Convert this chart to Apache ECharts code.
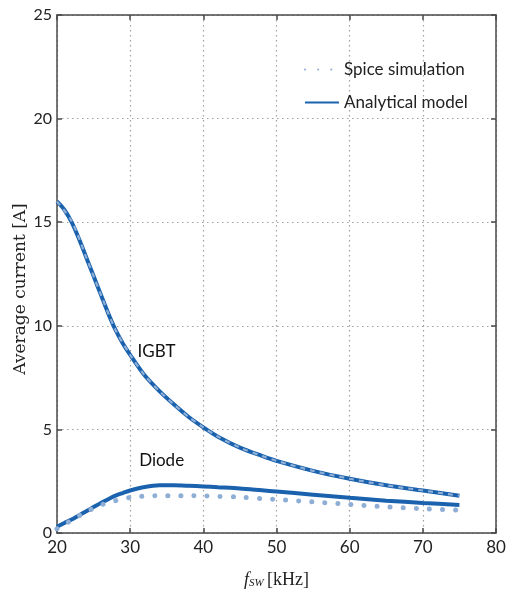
<!DOCTYPE html>
<html>
<head>
<meta charset="utf-8">
<script src="https://cdn.jsdelivr.net/npm/echarts@6/dist/echarts.min.js"></script>
<style>
  html, body { margin: 0; padding: 0; background: #fff; }
  #chart { width: 510px; height: 605px; }
</style>
</head>
<body>
<div id="chart"></div>
<script>
// Switching frequency sweep [kHz] and average device currents [A]
const freqModel = [20, 21, 22, 23, 24, 25, 26, 27, 28, 29, 30, 32, 34, 36, 38, 40, 42, 45, 48, 50, 55, 60, 65, 70, 75];
const igbtModel = [16.0, 15.6, 15.0, 14.2, 13.3, 12.4, 11.5, 10.6, 9.8, 9.15, 8.6, 7.6, 6.85, 6.2, 5.6, 5.1, 4.65, 4.12, 3.72, 3.48, 3.0, 2.62, 2.3, 2.05, 1.8];
const diodeModel = [0.3, 0.48, 0.65, 0.85, 1.05, 1.25, 1.45, 1.63, 1.8, 1.93, 2.05, 2.22, 2.3, 2.3, 2.28, 2.25, 2.21, 2.15, 2.06, 2.0, 1.85, 1.7, 1.56, 1.45, 1.35];

const freqSpice = [20, 22, 24, 26, 28, 30, 32, 34, 36, 38, 40, 42, 45, 48, 50, 55, 60, 65, 70, 75];
const igbtSpice = [16.0, 15.05, 13.3, 11.5, 9.8, 8.6, 7.6, 6.85, 6.2, 5.6, 5.1, 4.65, 4.12, 3.72, 3.48, 3.0, 2.62, 2.3, 2.05, 1.8];
const diodeSpice = [0.2, 0.62, 1.02, 1.35, 1.56, 1.71, 1.78, 1.8, 1.8, 1.8, 1.79, 1.77, 1.73, 1.66, 1.62, 1.5, 1.38, 1.26, 1.17, 1.1];

const xTicks = [20, 30, 40, 50, 60, 70, 80];
const yTicks = [0, 5, 10, 15, 20, 25];

const pairs = (xs, ys) => xs.map((x, i) => [x, ys[i]]);

const modelColor = '#1a62ae';
const spiceColor = '#8eaed6';
const axisColor = '#4a4a4a';
const labelFont = 'Lato, "Open Sans", sans-serif';
const serifFont = '"Liberation Serif", "DejaVu Serif", serif';

const chart = echarts.init(document.getElementById('chart'));

const baseX = {
  type: 'value', min: xTicks[0], max: xTicks[xTicks.length - 1], interval: 10,
  axisLine: { show: true, onZero: false, lineStyle: { color: axisColor, width: 1.5 } },
  axisTick: { show: true, inside: true, length: 5, lineStyle: { color: axisColor, width: 1.5 } }
};
const baseY = {
  type: 'value', min: yTicks[0], max: yTicks[yTicks.length - 1], interval: 5,
  axisLine: { show: true, onZero: false, lineStyle: { color: axisColor, width: 1.5 } },
  axisTick: { show: true, inside: true, length: 5, lineStyle: { color: axisColor, width: 1.5 } }
};
const gridDots = { show: true, lineStyle: { color: '#a0a0a0', type: [1.5, 3.5], width: 1.2 } };

chart.setOption({
  animation: false,
  backgroundColor: '#fff',
  grid: { left: 57, right: 14, top: 15, bottom: 72, outerBoundsMode: 'none', containLabel: false },
  legend: {
    orient: 'vertical', left: 299, top: 56, itemGap: 16,
    itemWidth: 34, itemHeight: 16,
    itemStyle: { opacity: 0 },
    textStyle: { fontFamily: labelFont, fontSize: 17, color: '#222' },
    data: ['Spice simulation', 'Analytical model']
  },
  xAxis: [
    Object.assign({}, baseX, {
      position: 'bottom',
      name: '{f|f}{sw|SW} {u|[kHz]}', nameLocation: 'middle', nameGap: 38, nameMoveOverlap: false,
      nameTextStyle: {
        rich: {
          f: { fontFamily: serifFont, fontStyle: 'italic', fontSize: 18, color: '#222' },
          sw: { fontFamily: serifFont, fontStyle: 'italic', fontSize: 11, color: '#222', verticalAlign: 'bottom', padding: [6, 0, 0, 0] },
          u: { fontFamily: serifFont, fontSize: 18, color: '#222' }
        }
      },
      axisLabel: { fontFamily: labelFont, fontSize: 17, color: '#222', margin: 6 },
      splitLine: gridDots
    }),
    Object.assign({}, baseX, { position: 'top', axisLabel: { show: false }, splitLine: { show: false } })
  ],
  yAxis: [
    Object.assign({}, baseY, {
      position: 'left',
      name: 'Average current [A]', nameLocation: 'middle', nameGap: 28, nameMoveOverlap: false,
      nameTextStyle: { fontFamily: '"DejaVu Serif", serif', fontSize: 17, color: '#222', padding: [0, 30, 0, 0] },
      axisLabel: { fontFamily: labelFont, fontSize: 16, color: '#222', margin: 5 },
      splitLine: gridDots
    }),
    Object.assign({}, baseY, { position: 'right', axisLabel: { show: false }, splitLine: { show: false } })
  ],
  series: [
    {
      name: 'Spice simulation', type: 'line', symbol: 'none', smooth: 0.3, z: 3,
      data: pairs(freqSpice, diodeSpice),
      lineStyle: { color: spiceColor, width: 5, type: [0.1, 13], cap: 'round' }, itemStyle: { color: spiceColor }
    },
    {
      name: 'Analytical model', type: 'line', symbol: 'none', smooth: 0.3, z: 2,
      data: pairs(freqModel, igbtModel),
      lineStyle: { color: modelColor, width: 4 }, itemStyle: { color: modelColor },
      markPoint: {
        symbol: 'rect', symbolSize: 0,
        label: { show: true, formatter: 'IGBT', fontFamily: labelFont, fontSize: 17, color: '#111' },
        data: [{ coord: [33.6, 8.75] }]
      }
    },
    {
      name: 'Analytical model', type: 'line', symbol: 'none', smooth: 0.3, z: 2,
      data: pairs(freqModel, diodeModel),
      lineStyle: { color: modelColor, width: 4 }, itemStyle: { color: modelColor },
      markPoint: {
        symbol: 'rect', symbolSize: 0,
        label: { show: true, formatter: 'Diode', fontFamily: labelFont, fontSize: 17, color: '#111' },
        data: [{ coord: [34.3, 3.5] }]
      }
    },
    {
      name: 'Spice simulation', type: 'line', symbol: 'none', smooth: 0.3, z: 3,
      data: pairs(freqSpice, igbtSpice),
      lineStyle: { color: spiceColor, width: 2.2, type: [5, 5] }, itemStyle: { color: spiceColor }
    }
  ]
});
</script>
</body>
</html>
